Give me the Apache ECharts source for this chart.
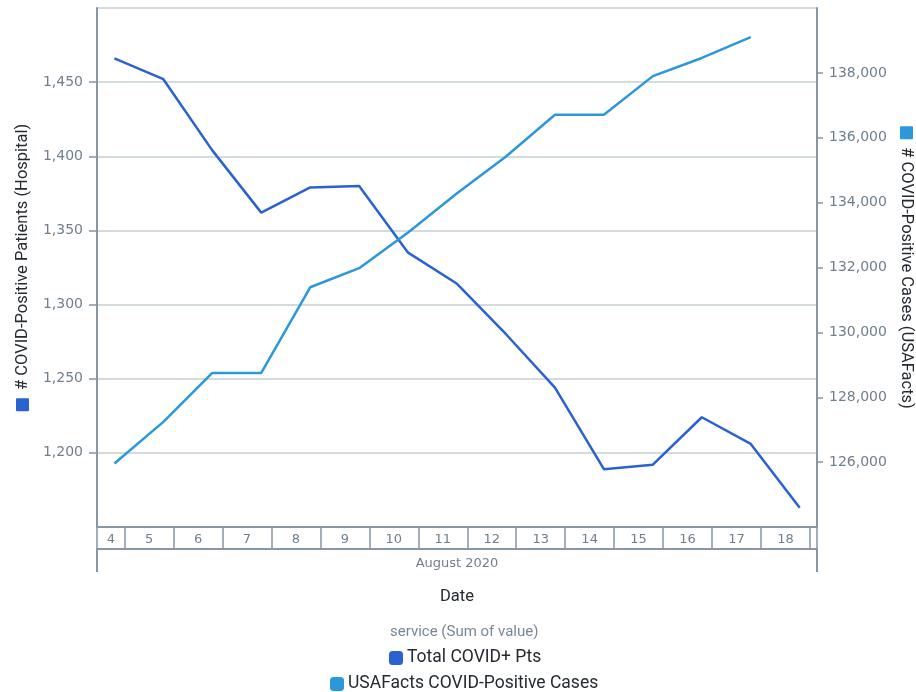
<!DOCTYPE html>
<html>
<head>
<meta charset="utf-8">
<script src="https://cdn.jsdelivr.net/npm/echarts@6/dist/echarts.min.js"></script>
<style>html,body{margin:0;padding:0;background:#fff}#c{width:916px;height:692px}</style>
</head>
<body>
<div id="c"></div>
<script>
// Data
const days = [4, 5, 6, 7, 8, 9, 10, 11, 12, 13, 14, 15, 16, 17, 18]; // August 2020
const tzShiftHours = 19; // timestamps at UTC midnight, shown in local time (previous day 19:00)
const totalCovidPts = [1466, 1452, 1404, 1362, 1379, 1380, 1335, 1314, 1280, 1244, 1189, 1192, 1224, 1206, 1163];
const usaFactsCases = [125960, 127240, 128750, 128750, 131390, 131980, 133080, 134290, 135420, 136710, 136710, 137900, 138460, 139100, null];
const seriesNames = ['Total COVID+ Pts', 'USAFacts COVID-Positive Cases'];
const monthLabel = 'August 2020';
const leftRange = { min: 1150, max: 1500, interval: 50 };
const rightRange = { min: 124000, max: 140000, interval: 2000 };
const xRange = { min: 4.436, max: 19.145 };

const C1 = '#2a62d0', C2 = '#2c98da';
const axisCol = '#8797a3', labelCol = '#6f7f8c', gridCol = '#c6cfd4';
const numFont = 'DejaVu Sans', txtFont = 'Roboto';

const xs = days.map(d => d + tzShiftHours / 24);
const s1 = xs.map((x, i) => [x, totalCovidPts[i]]);
const s2 = xs.map((x, i) => [x, usaFactsCases[i]]);

const dayBoundaries = [];
for (let d = Math.ceil(xRange.min); d <= Math.floor(xRange.max); d++) dayBoundaries.push(d);
const tickVals = [xRange.min, ...dayBoundaries, xRange.max];
const labelVals = [(xRange.min + dayBoundaries[0]) / 2];
for (let i = 0; i < dayBoundaries.length - 1; i++) labelVals.push(dayBoundaries[i] + 0.5);

const fmt = v => Number(v).toLocaleString('en-US');

const chart = echarts.init(document.getElementById('c'));
chart.setOption({
  animation: false,
  backgroundColor: '#fff',
  title: {
    text: 'service (Sum of value)', left: 385, top: 620,
    textStyle: { fontFamily: txtFont, fontSize: 15, fontWeight: 'normal', color: '#788897' }
  },
  legend: [
    { data: [seriesNames[0]], left: 384, top: 644, icon: 'roundRect', itemWidth: 14, itemHeight: 14, itemGap: 5,
      textStyle: { fontFamily: txtFont, fontSize: 17.5, color: '#252a30', padding: [0, 0, 0, -1] } },
    { data: [seriesNames[1]], left: 325, top: 670, icon: 'roundRect', itemWidth: 14, itemHeight: 14, itemGap: 5,
      textStyle: { fontFamily: txtFont, fontSize: 17.5, color: '#252a30', padding: [0, 0, 0, -1] } }
  ],
  grid: { left: 97, right: 99, top: 8, bottom: 165, containLabel: false, outerBoundsMode: 'none' },
  xAxis: [
    {
      type: 'value', position: 'bottom', min: xRange.min, max: xRange.max,
      axisLine: { show: true, onZero: false, lineStyle: { color: axisCol, width: 2 } },
      axisTick: { show: true, customValues: tickVals, length: 22, lineStyle: { color: axisCol, width: 1.5 } },
      axisLabel: { customValues: labelVals, formatter: v => String(Math.floor(v)), margin: 6,
        fontFamily: numFont, fontSize: 13, color: labelCol, showMinLabel: true, showMaxLabel: true },
      splitLine: { show: false }
    },
    {
      type: 'value', position: 'bottom', offset: 22, min: xRange.min, max: xRange.max,
      axisLine: { show: true, onZero: false, lineStyle: { color: axisCol, width: 2 } },
      axisTick: { show: true, customValues: [xRange.min, xRange.max], length: 23, lineStyle: { color: axisCol, width: 2 } },
      axisLabel: { customValues: [(xRange.min + xRange.max) / 2], formatter: () => monthLabel, margin: 8,
        fontFamily: numFont, fontSize: 13, color: labelCol },
      splitLine: { show: false },
      name: 'Date', nameLocation: 'middle', nameGap: 39,
      nameTextStyle: { fontFamily: txtFont, fontSize: 16.5, color: '#252a30' }
    }
  ],
  yAxis: [
    {
      type: 'value', position: 'left', min: leftRange.min, max: leftRange.max, interval: leftRange.interval,
      axisLine: { show: true, lineStyle: { color: axisCol, width: 2 } },
      axisTick: { show: true, length: 8, lineStyle: { color: axisCol, width: 1.5 } },
      axisLabel: { showMinLabel: false, showMaxLabel: false, formatter: fmt, margin: 14,
        fontFamily: numFont, fontSize: 14, color: labelCol },
      splitLine: { show: true, showMinLine: false, showMaxLine: true, lineStyle: { color: gridCol, width: 1.5 } },
      name: '{sq|}  # COVID-Positive Patients (Hospital)', nameLocation: 'middle', nameRotate: 90, nameGap: 66,
      nameTextStyle: { fontFamily: txtFont, fontSize: 16.5, color: '#252a30',
        rich: { sq: { width: 13, height: 13, backgroundColor: C1, borderRadius: 1 } } }
    },
    {
      type: 'value', position: 'right', min: rightRange.min, max: rightRange.max, interval: rightRange.interval,
      axisLine: { show: true, lineStyle: { color: axisCol, width: 2 } },
      axisTick: { show: true, length: 6, lineStyle: { color: axisCol, width: 1.5 } },
      axisLabel: { showMinLabel: false, showMaxLabel: false, formatter: fmt, margin: 12,
        fontFamily: numFont, fontSize: 14, color: labelCol },
      splitLine: { show: false },
      name: '{sq|}  # COVID-Positive Cases (USAFacts)', nameLocation: 'middle', nameRotate: -90, nameGap: 81,
      nameTextStyle: { fontFamily: txtFont, fontSize: 16.5, color: '#252a30',
        rich: { sq: { width: 13, height: 13, backgroundColor: C2, borderRadius: 1 } } }
    }
  ],
  series: [
    { name: seriesNames[0], type: 'line', xAxisIndex: 0, yAxisIndex: 0, data: s1, showSymbol: false, symbol: 'none',
      color: C1, lineStyle: { width: 2.5, color: C1 } },
    { name: seriesNames[1], type: 'line', xAxisIndex: 0, yAxisIndex: 1, data: s2, showSymbol: false, symbol: 'none',
      color: C2, lineStyle: { width: 2.5, color: C2 } }
  ]
});
</script>
</body>
</html>
